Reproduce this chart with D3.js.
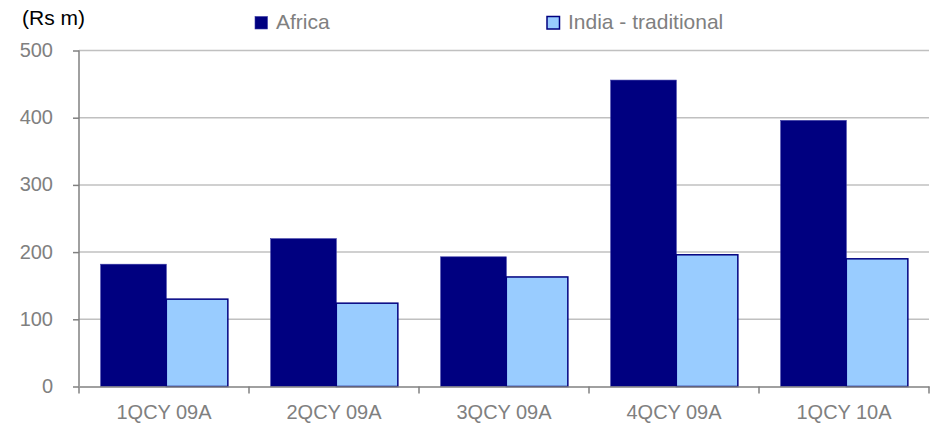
<!DOCTYPE html>
<html>
<head>
<meta charset="utf-8">
<script src="https://cdn.jsdelivr.net/npm/d3@7"></script>
<style>
  html, body { margin: 0; padding: 0; background: #fff; }
  svg { display: block; font-family: "Liberation Sans", Arial, sans-serif; }
</style>
</head>
<body>
<svg id="chart" width="937" height="424"></svg>
<script>
const categories = ["1QCY09A", "2QCY09A", "3QCY09A", "4QCY09A", "1QCY10A"];
const seriesNames = ["Africa", "India - traditional"];
const africa = [182, 220, 193, 456, 396];
const indiaTraditional = [130, 124, 163, 196, 190];
const yTicks = [0, 100, 200, 300, 400, 500];
const unitLabel = "(Rs m)";

const colors = { "Africa": "#000080", "India - traditional": "#99ccff" };
const strokes = { "Africa": "#3a3aa6", "India - traditional": "#000080" };

const svg = d3.select("#chart");
const mLeft = 79, mRight = 929, mTop = 50.5, mBottom = 386.5;

const x = d3.scaleBand().domain(categories).range([mLeft, mRight]).padding(0);
const y = d3.scaleLinear().domain([0, 500]).range([mBottom, mTop]);
const bw = x.bandwidth();

// gridlines
svg.append("g").selectAll("line").data(yTicks.filter(d => d > 0)).join("line")
  .attr("x1", mLeft).attr("x2", mRight)
  .attr("y1", d => y(d)).attr("y2", d => y(d))
  .attr("stroke", "#c0c0c0").attr("stroke-width", 1.5);

// bars
const series = [
  { name: "Africa", values: africa, off: 0.1276, w: 0.386 },
  { name: "India - traditional", values: indiaTraditional, off: 0.1276 + 0.386, w: 0.362 }
];
series.forEach(s => {
  svg.append("g").selectAll("rect").data(categories).join("rect")
    .attr("x", (c) => x(c) + s.off * bw)
    .attr("width", s.w * bw)
    .attr("y", (c, i) => y(s.values[i]))
    .attr("height", (c, i) => mBottom - y(s.values[i]))
    .attr("fill", colors[s.name])
    .attr("stroke", strokes[s.name])
    .attr("stroke-width", s.name === "Africa" ? 0.6 : 1.5);
});

// y axis
const yAxis = d3.axisLeft(y).tickValues(yTicks).tickSize(6).tickPadding(20).tickFormat(d3.format("d"));
const gy = svg.append("g").attr("transform", `translate(${mLeft},0)`).call(yAxis);
gy.select(".domain").attr("stroke", "#808080").attr("stroke-width", 1.5).attr("d", `M0,${mTop}V${mBottom}`);
gy.selectAll(".tick line").attr("stroke", "#808080").attr("stroke-width", 1.5);
gy.selectAll(".tick text").attr("fill", "#808080").attr("font-size", 20)
  .attr("font-family", "Liberation Sans, Arial, sans-serif").attr("dy", "0.3em");

// x axis
const xAxis = d3.axisBottom(x).tickValues([]).tickSizeOuter(0);
const gx = svg.append("g").attr("transform", `translate(0,${mBottom})`).call(xAxis);
gx.select(".domain").attr("stroke", "#808080").attr("stroke-width", 1.5);
const boundaries = categories.map(c => x(c)).concat([mRight]);
gx.selectAll("line.bnd").data(boundaries).join("line").attr("class", "bnd")
  .attr("x1", d => d).attr("x2", d => d).attr("y1", 0).attr("y2", 7)
  .attr("stroke", "#808080").attr("stroke-width", 1.5);
const catText = gx.selectAll("text.cat").data(categories).join("text").attr("class", "cat")
  .attr("x", d => x(d) + bw / 2).attr("y", 32.5)
  .attr("text-anchor", "middle").attr("fill", "#808080")
  .attr("font-size", 20);
catText.append("tspan").text(d => d.slice(0, 4));
catText.append("tspan").attr("dx", 5).text(d => d.slice(4));

// unit label
svg.append("text").attr("x", 22).attr("y", 25).attr("font-size", 21).attr("fill", "#000").text(unitLabel);

// legend
const legendX = [255, 547];
const lg = svg.append("g").selectAll("g").data(seriesNames).join("g")
  .attr("transform", (d, i) => `translate(${legendX[i]},16.5)`);
lg.append("rect").attr("width", 12.5).attr("height", 12.5)
  .attr("fill", d => colors[d]).attr("stroke", d => strokes[d])
  .attr("stroke-width", (d, i) => i === 0 ? 0.6 : 1.5);
lg.append("text").attr("x", 21).attr("y", 12.8).attr("font-size", 21).attr("fill", "#808080").text(d => d);
</script>
</body>
</html>
